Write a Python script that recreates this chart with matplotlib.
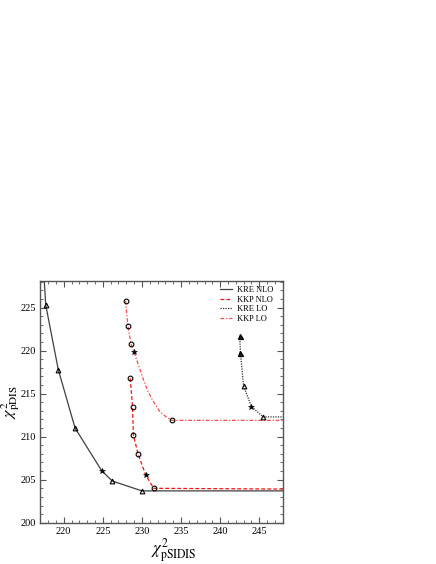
import matplotlib.pyplot as plt
import numpy as np
from matplotlib.ticker import MultipleLocator

plt.rcParams['font.family'] = ['Liberation Serif', 'DejaVu Serif']
plt.rcParams['mathtext.fontset'] = 'stix'

# chi^2 values; the last point of each curve lies past the right edge
kre_nlo_x = [217.45, 217.7, 219.3, 221.45, 224.85, 226.2, 230.0, 250.0]
kre_nlo_y = [229.0, 225.3, 217.8, 211.0, 206.05, 204.85, 203.7, 203.7]
kre_nlo_mk = ['', '^', '^', '^', '*', '^', '^', '']

kkp_nlo_x = [228.5, 228.8, 228.9, 229.5, 230.5, 231.5, 250.0]
kkp_nlo_y = [216.8, 213.4, 210.2, 208.0, 205.5, 204.0, 203.9]
kkp_nlo_mk = ['o', 'o', 'o', 'o', '*', 'o', '']

kre_lo_x = [242.5, 242.6, 243.0, 244.0, 245.5, 250.0]
kre_lo_y = [221.7, 219.7, 215.9, 213.5, 212.3, 212.3]
kre_lo_mk = ['T', 'T', '^', '*', '^', '']

kkp_lo_x = [227.9, 228.2, 228.6, 229.0, 230.2, 230.8, 231.45, 232.3, 233.1, 233.8, 250.0]
kkp_lo_y = [225.8, 222.9, 220.8, 219.8, 216.6, 215.2, 214.1, 212.9, 212.3, 211.9, 211.9]
kkp_lo_mk = ['o', 'o', 'o', '*', '', '', '', '', '', 'o', '']

series = [
    ('KRE NLO', kre_nlo_x, kre_nlo_y, kre_nlo_mk, '#404040', '-'),
    ('KKP NLO', kkp_nlo_x, kkp_nlo_y, kkp_nlo_mk, '#ff1010', (0, (3, 1.8))),
    ('KRE LO', kre_lo_x, kre_lo_y, kre_lo_mk, '#303030', (0, (1, 1))),
    ('KKP LO', kkp_lo_x, kkp_lo_y, kkp_lo_mk, '#ff4a4a', (0, (3, 1.5, 1, 1.5))),
]

fig = plt.figure(figsize=(4.36, 5.64), dpi=100)
ax = fig.add_axes([0.0924, 0.0732, 0.5560, 0.4286])

for label, xs, ys, mks, col, ls in series:
    ax.plot(xs, ys, color=col, linestyle=ls, linewidth=0.9, label=label)
    xs = np.array(xs)
    ys = np.array(ys)
    mks = np.array(mks)
    for m in ['^', 'T', 'o', '*']:
        sel = mks == m
        if not sel.any():
            continue
        if m == 'T':
            ax.plot(xs[sel], ys[sel], ls='none', marker='^', ms=3.6, mfc='#222222',
                    mec='black', mew=0.9, zorder=5)
        elif m == '*':
            ax.plot(xs[sel], ys[sel], ls='none', marker='*', ms=3.8, mfc='black',
                    mec='black', mew=0.4, zorder=5)
        else:
            ax.plot(xs[sel], ys[sel], ls='none', marker=m, ms=3.4, mfc='none',
                    mec='black', mew=0.8, zorder=5)

ax.set_xlim(217, 248)
ax.set_ylim(200, 228.1)
ax.xaxis.set_major_locator(MultipleLocator(5))
ax.xaxis.set_minor_locator(MultipleLocator(1))
ax.yaxis.set_major_locator(MultipleLocator(5))
ax.yaxis.set_minor_locator(MultipleLocator(1))
ax.tick_params(which='both', direction='in', top=True, right=True, color='#555555',
               labelsize=7.5, pad=3)
ax.tick_params(which='major', length=4, width=0.8)
ax.tick_params(which='minor', length=2.5, width=0.6)
for sp in ax.spines.values():
    sp.set_color('#555555')
    sp.set_linewidth(1.0)

ax.set_xlabel(r'$\chi^2_{\rm pSIDIS}$', fontsize=12)
ax.set_ylabel(r'$\chi^2_{\rm pDIS}$', fontsize=11.5)
ax.xaxis.set_label_coords(0.55, -0.058)
ax.yaxis.set_label_coords(-0.075, 0.5)

ax.legend(loc='upper left', bbox_to_anchor=(0.72, 1.0), borderaxespad=0.2, frameon=False,
          fontsize=6, handlelength=1.5, handletextpad=0.6, labelspacing=0.2)

plt.savefig('out.png', dpi=100)
